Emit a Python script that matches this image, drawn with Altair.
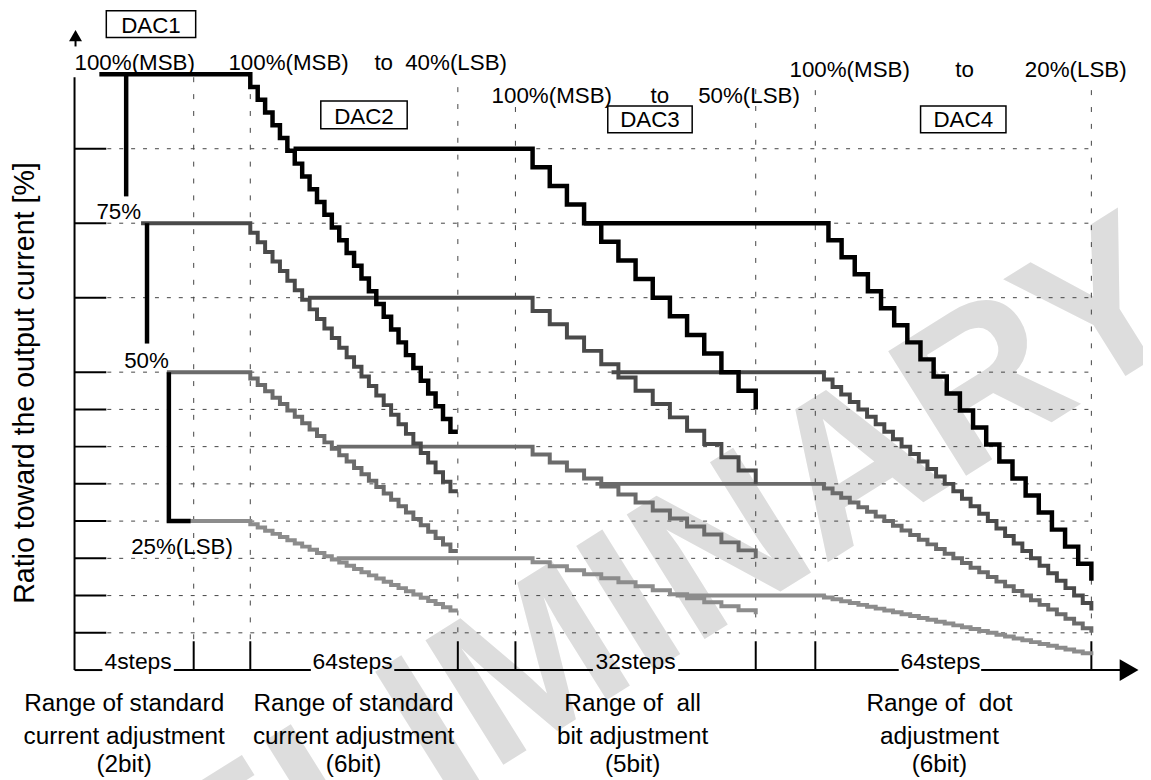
import altair as alt
import pandas as pd

# ---------------- data ----------------
dac_names    = ["DAC1", "DAC2", "DAC3", "DAC4"]
dac1_levels  = [100, 75, 50, 25]            # DAC1 settings (% of full current)
dac2_carry   = [87.5, 62.5, 37.5, 18.75]    # DAC2 setting carried into the DAC3 range
dac3_carry   = [75, 50, 31.25, 12.5]        # DAC3 setting carried into the DAC4 range
lsb_ratio    = [0.4, 0.5, 0.2]              # DAC2, DAC3, DAC4 LSB ratio (MSB = 100 %)
drawn_steps  = [[28, 14, 21], [28, 14, 32], [28, 14, 32], [28, 14, 32]]
grid_levels  = [87.5, 75, 62.5, 50, 43.75, 37.5, 31.25, 25, 18.75, 12.5, 6.25]
level_labels = ["75%", "50%", "25%(LSB)"]
step_labels  = ["4steps", "64steps", "32steps", "64steps"]
range_labels = [
    ["Range of standard", "current adjustment", "(2bit)"],
    ["Range of standard", "current adjustment", "(6bit)"],
    ["Range of\u00a0 all", "bit adjustment", "(5bit)"],
    ["Range of\u00a0 dot", "adjustment", "(6bit)"],
]
top_labels   = ["100%(MSB)", "100%(MSB)", "to", "40%(LSB)",
                "100%(MSB)", "to", "50%(LSB)",
                "100%(MSB)", "to", "20%(LSB)"]
y_title      = "Ratio toward the output current [%]"
watermark    = "PRELIMINARY"
chain_colors = ["#000000", "#4a4a4a", "#6b6b6b", "#8c8c8c"]

# ---------------- layout (page pixels) ----------------
W, H = 1143, 772
PX_TOP, PX_PER_PCT = 72, 6.0


def v(py):
    return 100 - (py - PX_TOP) / PX_PER_PCT


XS = alt.Scale(domain=[8, 8 + W], nice=False, zero=False)
YS = alt.Scale(domain=[v(8 + H), v(8)], nice=False, zero=False)
X_AXIS = 75
REG = [195, 252, 461, 519, 761, 821, 1099]
D2, D3, D4 = (252, 461), (519, 761), (821, 1099)
chain_start = [100, 142, 168, 192]
vline_top = [75, 75, 85, 105, 87, 88, 88]


def X(f="x"):
    return alt.X(f + ":Q", scale=XS, axis=None)


def Y(f="y"):
    return alt.Y(f + ":Q", scale=YS, axis=None)


def stairs(x0, x1, v0, v1, n, drop_first):
    dx = (x1 - x0) / n
    dv = (v0 - v1) / n
    pts = [(x0, v0)]
    for i in range(n):
        if drop_first:
            pts += [(x0 + i * dx, v0 - (i + 1) * dv), (x0 + (i + 1) * dx, v0 - (i + 1) * dv)]
        else:
            pts += [(x0 + (i + 1) * dx, v0 - i * dv), (x0 + (i + 1) * dx, v0 - (i + 1) * dv)]
    return pts


def seg_rows(segs):
    rows = []
    for s, pts in enumerate(segs):
        for k, (x, y) in enumerate(pts):
            rows.append({"seg": s, "ord": k, "x": x, "y": y})
    return pd.DataFrame(rows)


layers = []

# watermark
layers.append(alt.Chart(pd.DataFrame([{"x": 548, "y": v(665), "t": watermark}])).mark_text(
    angle=328, fontSize=215, fontWeight="bold", font="Liberation Sans", color="#dddddd",
    align="center", baseline="middle").encode(x=X(), y=Y(), text="t:N"))

# dashed grid
hgrid = pd.DataFrame({"x": 108, "x2": REG[-1], "y": grid_levels})
layers.append(alt.Chart(hgrid).mark_rule(color="#444", strokeWidth=1, strokeDash=[4, 8]).encode(
    x=X(), x2="x2:Q", y=Y()))
vgrid = pd.DataFrame({"x": REG, "y": [v(t) for t in vline_top], "y2": v(643)})
layers.append(alt.Chart(vgrid).mark_rule(color="#444", strokeWidth=1, strokeDash=[5, 12]).encode(
    x=X(), y=Y(), y2="y2:Q"))

# solid ticks
yt = pd.DataFrame({"x": X_AXIS, "x2": 107, "y": grid_levels})
layers.append(alt.Chart(yt).mark_rule(color="black", strokeWidth=2).encode(x=X(), x2="x2:Q", y=Y()))
bt = pd.DataFrame({"x": REG, "y": v(643), "y2": 0})
layers.append(alt.Chart(bt).mark_rule(color="black", strokeWidth=2).encode(x=X(), y=Y(), y2="y2:Q"))

# axes
axis_segs = pd.DataFrame([
    {"x": X_AXIS, "x2": X_AXIS, "y": 0, "y2": v(75)},
    {"x": 76, "x2": 76, "y": v(44), "y2": v(34)},
])
layers.append(alt.Chart(axis_segs).mark_rule(color="black", strokeWidth=2).encode(
    x=X(), x2="x2:Q", y=Y(), y2="y2:Q"))
gaps = [(X_AXIS, 103), (175, 313), (397, 597), (683, 905), (988, 1130)]
xa = pd.DataFrame([{"x": a, "x2": b, "y": 0} for a, b in gaps])
layers.append(alt.Chart(xa).mark_rule(color="black", strokeWidth=2).encode(x=X(), x2="x2:Q", y=Y()))
# arrow heads (triangles)
layers.append(alt.Chart(pd.DataFrame([{"x": 76, "y": v(33)}])).mark_point(
    shape="triangle-up", size=170, filled=True, color="black", opacity=1, strokeWidth=0).encode(
    x=X(), y=Y()))
layers.append(alt.Chart(pd.DataFrame([{"x": 1137, "y": 0}])).mark_point(
    shape="triangle-right", size=480, filled=True, color="black", opacity=1, strokeWidth=0).encode(
    x=X(), y=Y()))

# curves, lightest chain first
for c in reversed(range(4)):
    L1, L2, L3 = dac1_levels[c], dac2_carry[c], dac3_carry[c]
    n2, n3, n4 = drawn_steps[c]
    e2, e3, e4 = L1 * lsb_ratio[0], L2 * lsb_ratio[1], L3 * lsb_ratio[2]
    s1 = [(chain_start[c], L1)] + stairs(D2[0], D2[1], L1, e2, n2, True)
    xb2 = D2[0] + (L1 - L2) / (L1 - e2) * (D2[1] - D2[0])
    s2 = [(xb2, L2)] + stairs(D3[0], D3[1], L2, e3, n3, False)
    xb3 = D3[0] + (L2 - L3) / (L2 - e3) * (D3[1] - D3[0])
    s3 = [(xb3, L3)] + stairs(D4[0], D4[1], L3, e4, n4, False)
    layers.append(alt.Chart(seg_rows([s1, s2, s3])).mark_line(
        color=chain_colors[c], strokeWidth=4.5 if c == 0 else 4, strokeJoin="miter").encode(
        x=X(), y=Y(), detail="seg:N", order="ord:Q"))

# DAC1 switching bars
bars = [[(127, 100), (127, 79.5)], [(148, 75), (148, 54.8)], [(170, 50), (170, 25), (192, 25)]]
layers.append(alt.Chart(seg_rows(bars)).mark_line(color="black", strokeWidth=4.5, strokeJoin="miter").encode(
    x=X(), y=Y(), detail="seg:N", order="ord:Q"))

# DAC boxes
boxes = pd.DataFrame({
    "x": [107, 323, 612, 927], "x2": [197, 410, 697, 1013],
    "y": [v(8), v(99), v(104), v(104)], "y2": [v(35), v(127), v(131), v(131)],
    "tx": [152, 366.5, 654.5, 970], "ty": [v(30), v(122), v(125), v(125)], "t": dac_names})
layers.append(alt.Chart(boxes).mark_rect(fill="white", stroke="black", strokeWidth=1.5).encode(
    x=X(), x2="x2:Q", y=Y(), y2="y2:Q"))
layers.append(alt.Chart(boxes).mark_text(fontSize=22.5, font="Liberation Sans", align="center",
                                         baseline="alphabetic").encode(x=X("tx"), y=Y("ty"), text="t:N"))

# top labels
top_pos = [(75, 68), (230, 68), (377, 68), (408, 68), (495, 101), (655, 101), (703, 101),
           (795, 75), (962, 75), (1032, 75)]
tl = pd.DataFrame([{"x": p[0], "y": v(p[1]), "t": t} for p, t in zip(top_pos, top_labels)])
lv = pd.DataFrame([{"x": p[0], "y": v(p[1]), "t": t}
                   for p, t in zip([(97, 218), (125, 368), (132, 555)], level_labels)])
for df in (tl, lv):
    layers.append(alt.Chart(df).mark_text(fontSize=22.5, font="Liberation Sans", align="left",
                                          baseline="alphabetic").encode(x=X(), y=Y(), text="t:N"))

# step labels
sl = pd.DataFrame({"x": [139, 355, 640, 947], "y": v(671), "t": step_labels})
layers.append(alt.Chart(sl).mark_text(fontSize=23, font="Liberation Sans", align="center",
                                      baseline="alphabetic").encode(x=X(), y=Y(), text="t:N"))

# range labels
centers = [125, 356, 637, 946]
baselines = [713, 746, 775]
rl = pd.DataFrame([{"x": centers[i], "y": v(baselines[j]), "t": range_labels[i][j]}
                   for i in range(4) for j in range(3)])
layers.append(alt.Chart(rl).mark_text(fontSize=24.5, font="Liberation Sans", align="center",
                                      baseline="alphabetic").encode(x=X(), y=Y(), text="t:N"))

# y title
layers.append(alt.Chart(pd.DataFrame([{"x": 25, "y": v(383), "t": y_title}])).mark_text(
    angle=270, fontSize=28.8, font="Liberation Sans", align="center", baseline="middle").encode(
    x=X(), y=Y(), text="t:N"))

chart = alt.layer(*layers).properties(
    width=W, height=H, padding=0, autosize=alt.AutoSizeParams(type="none")
).configure_view(stroke=None)

chart.save("out.html", embed_options={"renderer": "svg", "actions": False})
